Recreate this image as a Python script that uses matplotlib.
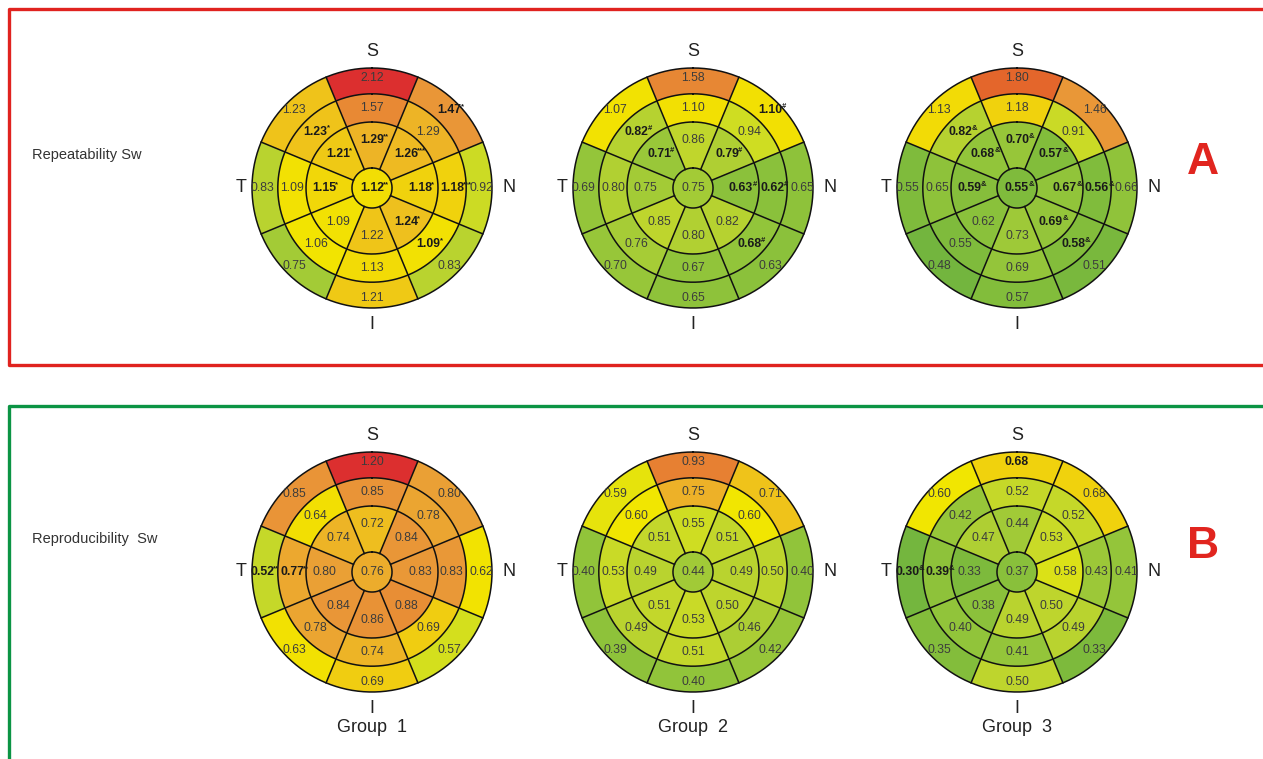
import re
import numpy as np
import matplotlib.pyplot as plt
from matplotlib.colors import LinearSegmentedColormap, Normalize

plt.rcParams['font.family'] = ['Liberation Sans', 'DejaVu Sans']

# each map: [center], ring1, ring2, ring3 ; sectors clockwise from S:
# S, S-N, N, I-N, I, I-T, T, S-T   (marks *, #, & are printed as superscripts)
rep_g1 = [['1.12**'],
          ['1.29**', '1.26***', '1.18*', '1.24*', '1.22', '1.09', '1.15*', '1.21*'],
          ['1.57', '1.29', '1.18***', '1.09*', '1.13', '1.06', '1.09', '1.23*'],
          ['2.12', '1.47*', '0.92', '0.83', '1.21', '0.75', '0.83', '1.23']]
rep_g2 = [['0.75'],
          ['0.86', '0.79#', '0.63#', '0.82', '0.80', '0.85', '0.75', '0.71#'],
          ['1.10', '0.94', '0.62#', '0.68#', '0.67', '0.76', '0.80', '0.82#'],
          ['1.58', '1.10#', '0.65', '0.63', '0.65', '0.70', '0.69', '1.07']]
rep_g3 = [['0.55&'],
          ['0.70&', '0.57&', '0.67&', '0.69&', '0.73', '0.62', '0.59&', '0.68&'],
          ['1.18', '0.91', '0.56&', '0.58&', '0.69', '0.55', '0.65', '0.82&'],
          ['1.80', '1.46', '0.66', '0.51', '0.57', '0.48', '0.55', '1.13']]
rpd_g1 = [['0.76'],
          ['0.72', '0.84', '0.83', '0.88', '0.86', '0.84', '0.80', '0.74'],
          ['0.85', '0.78', '0.83', '0.69', '0.74', '0.78', '0.77**', '0.64'],
          ['1.20', '0.80', '0.62', '0.57', '0.69', '0.63', '0.52**', '0.85']]
rpd_g2 = [['0.44'],
          ['0.55', '0.51', '0.49', '0.50', '0.53', '0.51', '0.49', '0.51'],
          ['0.75', '0.60', '0.50', '0.46', '0.51', '0.49', '0.53', '0.60'],
          ['0.93', '0.71', '0.40', '0.42', '0.40', '0.39', '0.40', '0.59']]
rpd_g3 = [['0.37'],
          ['0.44', '0.53', '0.58', '0.50', '0.49', '0.38', '0.33', '0.47'],
          ['0.52', '0.52', '0.43', '0.49', '0.41', '0.40', '0.39&', '0.42'],
          ['0.68', '0.68', '0.41', '0.33', '0.50', '0.35', '0.30&', '0.60']]
rpd_g3_bold = [(3, 0)]   # printed bold without a mark

groups = ['Group  1', 'Group  2', 'Group  3']
row_titles = ['Repeatability Sw', 'Reproducibility  Sw']
row_letters = ['A', 'B']
row_range = [(0.45, 2.12), (0.28, 1.20)]

cmap = LinearSegmentedColormap.from_list('gyr', [
    (0.00, '#6fb33f'), (0.08, '#85be3b'), (0.14, '#93c53a'), (0.19, '#a9cd35'),
    (0.25, '#c3d72b'), (0.32, '#d6e01c'), (0.35, '#f2e600'), (0.40, '#f2de04'),
    (0.44, '#f0d00e'), (0.48, '#eebd20'), (0.53, '#eca92e'), (0.58, '#e99c38'),
    (0.66, '#e88c35'), (0.80, '#e4682b'), (1.00, '#dc2f2f')])

radii = [0.167, 0.55, 0.785, 1.0]
label_r = [0.0, 0.40, 0.665, 0.915]

W, H = 1263, 759
fig = plt.figure(figsize=(W / 100, H / 100), dpi=100)

# frames
bg = fig.add_axes([0, 0, 1, 1])
bg.set_xlim(0, W)
bg.set_ylim(H, 0)
bg.axis('off')
bg.plot([W + 5, 9, 9, W + 5], [9, 9, 365, 365], color='#e0231f', lw=2.4, clip_on=False)
bg.plot([W + 5, 9, 9], [406, 406, H + 5], color='#0b9444', lw=2.4, clip_on=False)


def split(s):
    m = re.match(r'([\d.]+)(.*)', s)
    return m.group(1), m.group(2)


def draw_map(cx, cy, rings, norm, group=None, bold_cells=()):
    R = 120
    ax = fig.add_axes([(cx - R) / W, 1 - (cy + R) / H, 2 * R / W, 2 * R / H], projection='polar')
    ax.set_theta_zero_location('N')
    ax.set_theta_direction(-1)
    ax.axis('off')
    ax.set_ylim(0, 1)
    sec = np.deg2rad(np.arange(8) * 45)
    for i, ring in enumerate(rings):
        nums = np.array([float(split(s)[0]) for s in ring])
        cols = cmap(norm(nums))
        if i == 0:
            ax.bar(0, radii[0], width=2 * np.pi, bottom=0, color=cols, edgecolor=cols, lw=0.3)
            pos = [(0, 0)]
        else:
            ax.bar(sec, radii[i] - radii[i - 1], width=np.deg2rad(45), bottom=radii[i - 1],
                   color=cols, edgecolor=cols, lw=0.3)
            pos = [(t, label_r[i]) for t in sec]
        for k, s in enumerate(ring):
            num, mark = split(s)
            bold = bool(mark) or (i, k) in bold_cells
            t = ax.text(pos[k][0], pos[k][1], num, ha='center', va='center', fontsize=8.8,
                        fontweight='bold' if bold else 'normal',
                        color='#1a1a1a' if bold else '#3c3c3c')
            if mark:
                ax.annotate(mark, xy=(0.97, 0.5), xycoords=t, fontsize=5.5, fontweight='bold',
                            ha='left', va='bottom', color='#1a1a1a')
    th = np.linspace(0, 2 * np.pi, 400)
    for r in radii:
        ax.plot(th, np.full_like(th, r), color='#111111', lw=1.1, clip_on=False)
    for a in np.deg2rad(22.5 + 45 * np.arange(8)):
        ax.plot([a, a], [radii[0], radii[-1]], color='#111111', lw=1.1, clip_on=False)
    lab = dict(fontsize=13, ha='center', va='center', color='#222222', transform=ax.transAxes)
    ax.text(0.5, 1.07, 'S', **lab)
    ax.text(0.5, -0.07, 'I', **lab)
    ax.text(-0.046, 0.5, 'T', **lab)
    ax.text(1.07, 0.5, 'N', **lab)
    if group:
        ax.text(0.5, -0.15, group, fontsize=13, ha='center', va='center',
                color='#222222', transform=ax.transAxes)


centers_x = [372, 693, 1017]
rows = [(188, [rep_g1, rep_g2, rep_g3]), (572, [rpd_g1, rpd_g2, rpd_g3])]
for r, (cy, maps) in enumerate(rows):
    norm = Normalize(*row_range[r])
    for j, m in enumerate(maps):
        bold = rpd_g3_bold if m is rpd_g3 else ()
        draw_map(centers_x[j], cy, m, norm, groups[j] if r == 1 else None, bold)
    fig.text(32 / W, 1 - (cy - 33) / H, row_titles[r], fontsize=10.5, ha='left',
             va='center', color='#333333')
    fig.text(1203 / W, 1 - (cy - 25) / H, row_letters[r], fontsize=32, fontweight='bold',
             ha='center', va='center', color='#e1251f')

fig.savefig('out.png', dpi=100, facecolor='white')
